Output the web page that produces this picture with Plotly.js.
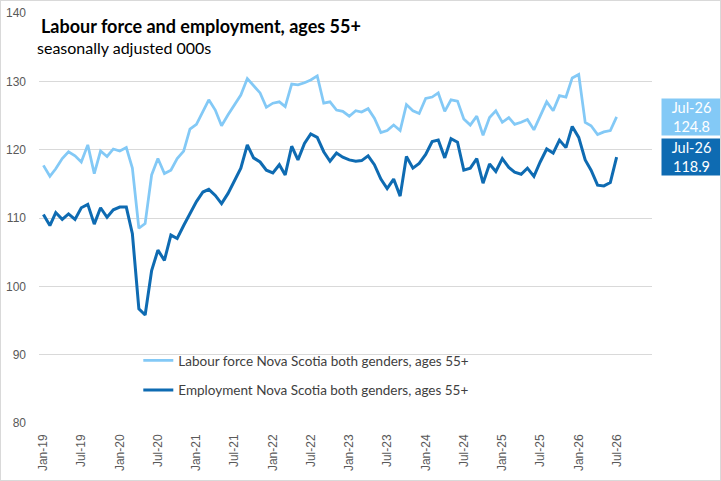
<!DOCTYPE html>
<html>
<head>
<meta charset="utf-8">
<script src="https://cdn.plot.ly/plotly-3.0.1.min.js"></script>
<style>
  html, body { margin: 0; padding: 0; background: #ffffff; }
  #chart { width: 719px; height: 479px; border: 1px solid #d9d9d9; }
</style>
</head>
<body>
<div id="chart"></div>
<script>
// ---- Data ----
const months = [
  "2019-01","2019-02","2019-03","2019-04","2019-05","2019-06","2019-07","2019-08","2019-09","2019-10","2019-11","2019-12",
  "2020-01","2020-02","2020-03","2020-04","2020-05","2020-06","2020-07","2020-08","2020-09","2020-10","2020-11","2020-12",
  "2021-01","2021-02","2021-03","2021-04","2021-05","2021-06","2021-07","2021-08","2021-09","2021-10","2021-11","2021-12",
  "2022-01","2022-02","2022-03","2022-04","2022-05","2022-06","2022-07","2022-08","2022-09","2022-10","2022-11","2022-12",
  "2023-01","2023-02","2023-03","2023-04","2023-05","2023-06","2023-07","2023-08","2023-09","2023-10","2023-11","2023-12",
  "2024-01","2024-02","2024-03","2024-04","2024-05","2024-06","2024-07","2024-08","2024-09","2024-10","2024-11","2024-12",
  "2025-01","2025-02","2025-03","2025-04","2025-05","2025-06","2025-07","2025-08","2025-09","2025-10","2025-11","2025-12",
  "2026-01","2026-02","2026-03","2026-04","2026-05","2026-06","2026-07"
];

const labourForce = [
  117.7,116.1,117.2,118.7,119.7,119.1,118.2,120.7,116.5,119.8,119.0,120.1,
  119.8,120.3,117.3,108.5,109.2,116.3,118.7,116.5,117.0,118.7,119.8,123.0,
  123.7,125.6,127.3,125.8,123.5,125.1,126.6,128.0,130.4,129.3,128.3,126.2,
  126.8,127.0,126.3,129.6,129.5,129.8,130.2,130.8,126.8,127.0,125.8,125.6,
  124.9,125.7,125.5,126.0,124.6,122.5,122.8,123.6,122.8,126.6,125.7,125.3,
  127.5,127.7,128.3,125.6,127.3,127.1,124.5,123.6,124.9,122.1,124.7,125.7,
  124.0,124.7,123.7,124.0,124.4,122.9,124.9,127.0,125.7,127.9,127.7,130.5,
  131.0,124.0,123.5,122.2,122.6,122.8,124.8
];

const employment = [
  110.5,108.9,110.8,109.8,110.6,109.8,111.5,112.0,109.1,111.5,110.1,111.2,
  111.6,111.6,107.7,96.7,95.8,102.3,105.3,103.8,107.5,107.0,108.9,110.6,
  112.4,113.8,114.2,113.3,112.1,113.6,115.4,117.3,120.7,118.8,118.2,117.0,
  116.6,117.8,116.3,120.5,118.5,120.9,122.3,121.8,119.7,118.3,119.5,118.9,
  118.5,118.3,118.4,119.1,117.8,115.7,114.3,115.7,113.2,119.0,117.3,118.0,
  119.3,121.2,121.4,118.8,121.6,121.1,117.0,117.3,118.7,115.1,117.9,116.8,
  118.7,117.4,116.7,116.4,117.3,116.1,118.2,120.1,119.5,121.4,120.3,123.4,
  121.8,118.5,117.0,114.8,114.7,115.2,118.9
];

const tickVals = ["2019-01","2019-07","2020-01","2020-07","2021-01","2021-07","2022-01","2022-07",
  "2023-01","2023-07","2024-01","2024-07","2025-01","2025-07","2026-01","2026-07"];
const tickLabels = ["Jan-19","Jul-19","Jan-20","Jul-20","Jan-21","Jul-21","Jan-22","Jul-22",
  "Jan-23","Jul-23","Jan-24","Jul-24","Jan-25","Jul-25","Jan-26","Jul-26"];

const seriesNames = ["Labour force Nova Scotia both genders, ages 55+",
                     "Employment Nova Scotia both genders, ages 55+"];
const lastLabel = "Jul-26";

// ---- Styles ----
const lightBlue = "#83C9F6";
const darkBlue = "#0E6BB2";
const textFont = "Lato, 'Open Sans', sans-serif";

const traces = [
  { x: months, y: labourForce, name: seriesNames[0], type: "scatter", mode: "lines",
    line: { color: lightBlue, width: 2.75 }, legendgroup: "a", hoverinfo: "x+y" },
  { x: months, y: employment, name: seriesNames[1], type: "scatter", mode: "lines",
    line: { color: darkBlue, width: 3 }, legendgroup: "b", hoverinfo: "x+y" }
];

const lastLF = labourForce[labourForce.length - 1];
const lastEmp = employment[employment.length - 1];

const layout = {
  width: 719, height: 479,
  margin: { l: 38, r: 68, t: 12, b: 57 },
  paper_bgcolor: "#ffffff", plot_bgcolor: "#ffffff",
  showlegend: true,
  title: {
    text: "<b>Labour force and employment, ages 55+</b>",
    font: { family: textFont, size: 18, color: "#000000" },
    x: 40 / 719, xanchor: "left", xref: "container",
    y: 1 - 26 / 479, yanchor: "middle", yref: "container"
  },
  xaxis: {
    type: "date",
    range: ["2018-12-11", "2026-12-17"],
    tickmode: "array", tickvals: tickVals, ticktext: tickLabels,
    tickangle: -90,
    tickfont: { family: "'Liberation Sans', Arial, sans-serif", size: 12, color: "#595959" },
    showgrid: false, zeroline: false, showline: false, ticks: "",
    ticklabelstandoff: 8
  },
  yaxis: {
    range: [80, 140], dtick: 10, tick0: 80,
    tickfont: { family: "'Liberation Sans', Arial, sans-serif", size: 12, color: "#595959" },
    showgrid: true, gridcolor: "#d9d9d9", gridwidth: 1,
    zeroline: false, showline: false, ticks: "",
    ticklabelstandoff: 12
  },
  legend: {
    x: 0.162, y: 0.19, xanchor: "left", yanchor: "top",
    bgcolor: "rgba(0,0,0,0)",
    font: { family: textFont, size: 13.5, color: "#404040" },
    traceorder: "grouped", tracegroupgap: 9,
    itemwidth: 30
  },
  annotations: [
    { xref: "paper", yref: "paper", x: 40 / 719 - 38 / 613, y: 1, showarrow: false,
      text: "seasonally adjusted 000s", xanchor: "left", yanchor: "middle",
      font: { family: textFont, size: 16, color: "#000000" },
      yshift: 12 - 46 },
    { xref: "paper", yref: "y", x: 1.0147, y: lastLF, showarrow: false,
      xanchor: "left", yanchor: "middle",
      text: lastLabel + "<br>" + lastLF.toFixed(1),
      font: { family: textFont, size: 14.5, color: "#ffffff" },
      bgcolor: lightBlue, width: 55, height: 32, borderpad: 2, align: "center" },
    { xref: "paper", yref: "y", x: 1.0147, y: lastEmp, showarrow: false,
      xanchor: "left", yanchor: "middle",
      text: lastLabel + "<br>" + lastEmp.toFixed(1),
      font: { family: textFont, size: 14.5, color: "#ffffff" },
      bgcolor: darkBlue, width: 55, height: 32, borderpad: 2, align: "center" }
  ]
};

Plotly.newPlot("chart", traces, layout, { displayModeBar: false, responsive: false });
</script>
</body>
</html>
